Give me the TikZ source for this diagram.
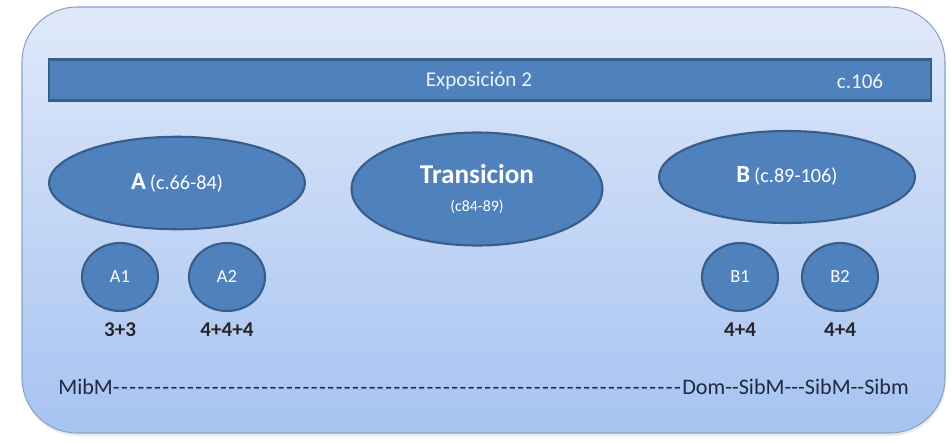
\documentclass[tikz,border=0pt]{standalone}
\usepackage{fontspec}
\setmainfont{Carlito}
\usetikzlibrary{shapes.geometric,calc}

\definecolor{boxtop}{RGB}{224,233,250}
\definecolor{boxbot}{RGB}{166,195,241}
\definecolor{boxline}{RGB}{140,162,196}
\definecolor{partfill}{RGB}{79,129,189}
\definecolor{partline}{RGB}{56,93,138}
\definecolor{darktext}{RGB}{31,41,64}

\tikzset{
    part/.style={ellipse,draw=partline,fill=partfill,line width=1.2pt,inner sep=0pt,
        text=white,minimum width=5.12cm,minimum height=1.85cm},
    phrase/.style={ellipse,draw=partline,fill=partfill,line width=1.2pt,inner sep=0pt,
        text=white,minimum width=1.52cm,minimum height=1.36cm,font=\fontsize{10.5}{12}\selectfont},
    bars/.style={text=black!85,font=\bfseries\fontsize{12}{14}\selectfont}
}

\begin{document}
\begin{tikzpicture}[x=0.02cm,y=-0.02cm]
                \useasboundingbox (0,0) rectangle (951,441);
                % fondo
                \fill[black!20,opacity=0.4,rounded corners=1.1cm] (23,10) rectangle (946,436);
                \shade[top color=boxtop,bottom color=boxbot,draw=boxline,line width=0.6pt,
                    rounded corners=1.1cm] (22,7) rectangle (945,433);
                
                % barra superior
                \node[draw=partline,fill=partfill,line width=1.4pt,minimum width=17.64cm,
                    minimum height=0.82cm,inner sep=0pt] (expo) at (490,80) {};
                \node[text=white!90!partfill,font=\fontsize{12}{14}\selectfont] at (479,81) {Exposición 2};
                \node[text=white!90!partfill,font=\fontsize{12}{14}\selectfont] at (860,81) {c.106};
                
                % secciones
                \node[part] (A) at (177,183) {{\bfseries\fontsize{14}{16}\selectfont A} {\fontsize{11.5}{13}\selectfont(c.66-84)}};
                \node[part,minimum width=5.02cm,minimum height=2.26cm,align=center] (trans) at (477,189)
                    {\raisebox{0pt}{\bfseries\fontsize{15.5}{17}\selectfont Transicion}\\[4pt]{\fontsize{9}{10}\selectfont(c84-89)}};
                \node[part,minimum height=1.84cm] (B) at (787,177) {\raisebox{3pt}{{\bfseries\fontsize{14}{16}\selectfont B} {\fontsize{11.5}{13}\selectfont(c.89-106)}}};
                
                % frases
                \foreach \n/\x/\t in {A1/120/3+3,A2/227/4+4+4,B1/740/4+4,B2/840/4+4}
                {
                \node[phrase] (\n) at (\x,277) {\n};
                \node[bars] (\n-bars) at ($(\n)+(0,53)$) {\t};
                }
                
                % tonalidades
                \node[anchor=base west,inner sep=0pt,text=darktext,font=\fontsize{12.6}{14}\selectfont] (tonal) at (58,394)
                    {\hbox to 17.02cm{MibM\xleaders\hbox{-\kern0.8pt}\hfill Dom-{}-SibM-{}-{}-SibM-{}-Sibm}};
            \end{tikzpicture}
\end{document}
